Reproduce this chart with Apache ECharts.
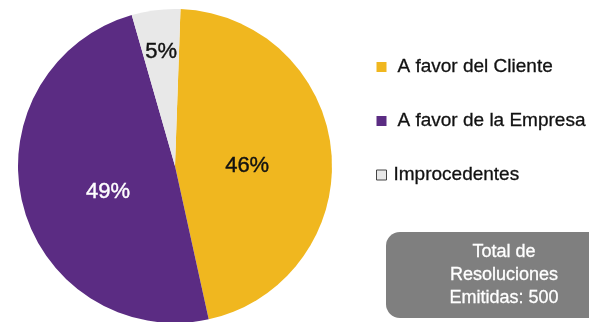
<!DOCTYPE html>
<html>
<head>
    <meta charset="utf-8" />
    <title>Resoluciones</title>
    <script type="text/javascript" src="https://cdn.jsdelivr.net/npm/echarts@6/dist/echarts.min.js"></script>
    <style>
        html, body { margin: 0; padding: 0; background: #fff; }
    </style>
</head>
<body>
<div id="main" style="width: 589px;height:322px;"></div>
<script type="text/javascript">
    // datos del grafico
    var categorias = ['A favor del Cliente', 'A favor de la Empresa', 'Improcedentes'];
    var porcentajes = [46, 49, 5];
    var colores = ['#F0B71F', '#5B2C83', '#E8E8E8'];
    var colorEtiqueta = ['#111', '#fff', '#111'];
    // desplazamiento de las etiquetas [dx, dy]
    var desplaza = [[-9, 7], [12, 6], [-4, -33]];
    var textoTotal = 'Total de\nResoluciones\nEmitidas: 500';

    var fuente = '"Liberation Sans", Arial, Helvetica, sans-serif';

    var datos = categorias.map(function (c, i) {
        return {
            name: c,
            value: porcentajes[i],
            itemStyle: { color: colores[i] },
            label: { color: colorEtiqueta[i], textBorderColor: colorEtiqueta[i] }
        };
    });

    var myChart = echarts.init(document.getElementById('main'));
    var option = {
        animation: false,
        legend: {
            orient: 'vertical',
            left: 376,
            top: 57,
            padding: 0,
            itemGap: 34,
            itemWidth: 10,
            itemHeight: 10,
            icon: 'rect',
            textStyle: {
                fontFamily: fuente, fontSize: 19, lineHeight: 20, color: '#111',
                textBorderColor: '#111', textBorderWidth: 0.3, padding: [0, 0, 0, 6]
            },
            data: [
                { name: categorias[0] },
                { name: categorias[1] },
                { name: categorias[2], itemStyle: { borderColor: '#444', borderWidth: 1 },
                  textStyle: { padding: [0, 0, 0, 2] } }
            ]
        },
        series: [
            {
                type: 'pie',
                center: [175, 166],
                radius: [0, 157],
                startAngle: 88,
                clockwise: true,
                label: {
                    show: true,
                    position: 'inside',
                    formatter: '{c}%',
                    fontFamily: fuente,
                    fontSize: 22,
                    textBorderWidth: 0.4
                },
                labelLayout: function (p) {
                    var d = desplaza[p.dataIndex];
                    return { dx: d[0], dy: d[1] };
                },
                labelLine: { show: false },
                emphasis: { disabled: true },
                data: datos
            }
        ],
        graphic: [
            {
                type: 'rect',
                left: 386,
                top: 232,
                shape: { width: 220, height: 86, r: 14 },
                style: { fill: '#7F7F7F' }
            },
            {
                type: 'text',
                x: 504,
                y: 241,
                style: {
                    text: textoTotal,
                    fill: '#fff',
                    stroke: '#fff',
                    lineWidth: 0.3,
                    font: '18px ' + fuente,
                    align: 'center',
                    lineHeight: 23
                }
            }
        ]
    };
    myChart.setOption(option);
</script>
</body>
</html>
